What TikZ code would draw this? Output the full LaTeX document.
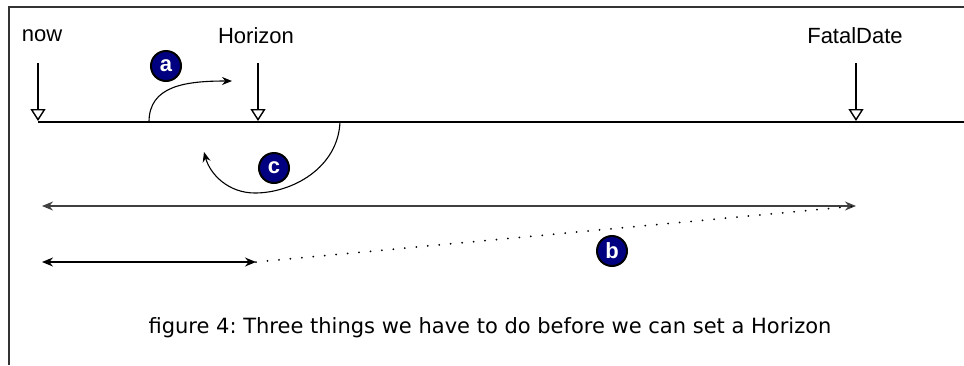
\documentclass[tikz,border=0pt]{standalone}
\usepackage{fontspec}
\setmainfont{Liberation Sans}
\newfontfamily\capfont{DejaVu Sans}
\usetikzlibrary{arrows.meta}
\definecolor{navy}{HTML}{000080}
\begin{document}
\begin{tikzpicture}[x=1pt,y=-1pt,
  lbl/.style={font=\fontsize{22}{26}\selectfont, inner sep=0pt},
  marker/.style={circle, draw=black, line width=2pt, fill=navy, minimum size=30pt, inner sep=0pt,
     text=white, font=\bfseries\fontsize{22}{24}\selectfont},
  downarrow/.style={line width=1.4pt, -{Triangle[open, length=12pt, width=15pt, line width=1.4pt]}},
  curvearrow/.style={line width=1.1pt, -{Stealth[length=10pt, width=8pt]}},
  spanarrow/.style={line width=1.4pt, draw=black!75, {Stealth[length=11pt, width=9pt]}-{Stealth[length=11pt, width=9pt]}},
  frameline/.style={line width=2pt, draw=black!80}]
\useasboundingbox (0,0) rectangle (964,365);
% frame
\coordinate (ftr) at (964,7);
\coordinate (ftl) at (9,7);
\coordinate (fbl) at (9,365);
\draw[frameline] (ftr) -- (ftl) -- (fbl);
% timeline
\coordinate (t0) at (38,122);
\coordinate (t1) at (964,122);
\draw[line width=2.8pt] (t0) -- (t1);
% labels
\node[lbl] (now) at (42,36) {now};
\node[lbl] (hor) at (256,36) {Horizon};
\node[lbl] (fat) at (855,36) {FatalDate};
\coordinate (nowtop) at (38,63);
\coordinate (nowbot) at (38,121);
\coordinate (hortop) at (258,63);
\coordinate (horbot) at (258,121);
\coordinate (fattop) at (856,63);
\coordinate (fatbot) at (856,121);
\draw[downarrow] (nowtop) -- (nowbot);
\draw[downarrow] (hortop) -- (horbot);
\draw[downarrow] (fattop) -- (fatbot);
% curve a
\coordinate (as) at (149,122);
\coordinate (ae) at (232,81);
\draw[curvearrow] (as) .. controls (149,86) and (185,81) .. (ae);
% curve c
\coordinate (cs) at (340,122);
\coordinate (cm) at (255,193);
\coordinate (ce) at (204,152);
\draw[curvearrow] (cs) .. controls (338,168) and (292,193) .. (cm) .. controls (228,193) and (210,174) .. (ce);
% span arrows
\coordinate (l1a) at (42,206);
\coordinate (l1b) at (856,206);
\coordinate (l2a) at (42,262);
\coordinate (l2b) at (256,262);
\draw[spanarrow] (l1a) -- (l1b);
\draw[spanarrow, draw=black] (l2a) -- (l2b);
\draw[line width=2pt, line cap=round, dash pattern=on 0pt off 11.5pt] (l2b) -- (l1b);
% markers
\node[marker] (ma) at (166,66) {a};
\node[marker] (mc) at (274,168) {c};
\node[marker] (mb) at (612,251) {b};
% caption
\node[font=\capfont\fontsize{21}{24}\selectfont, inner sep=0pt] (cap) at (490,328) {figure 4:\ Three things we have to do before we can set a Horizon};
\end{tikzpicture}
\end{document}
